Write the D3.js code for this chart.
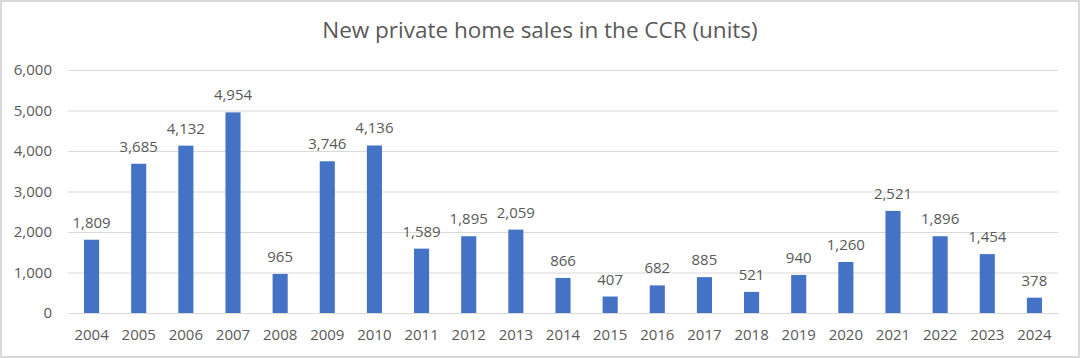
<!DOCTYPE html>
<html><head><meta charset="utf-8">
<script src="https://cdn.jsdelivr.net/npm/d3@7"></script>
<style>html,body{margin:0;padding:0;background:#fff;}svg{display:block;}</style>
</head><body>
<svg id="c" width="1080" height="358"></svg>
<script>
const years = ["2004","2005","2006","2007","2008","2009","2010","2011","2012","2013","2014","2015","2016","2017","2018","2019","2020","2021","2022","2023","2024"];
const sales = [1809,3685,4132,4954,965,3746,4136,1589,1895,2059,866,407,682,885,521,940,1260,2521,1896,1454,378];
const yTicks = [0,1000,2000,3000,4000,5000,6000];
const title = "New private home sales in the CCR (units)";

const svg = d3.select("#c");
const W = 1080, H = 358;
const font = "'Open Sans', sans-serif";
const txt = "#595959";
svg.append("rect").attr("x",1).attr("y",1).attr("width",W-2).attr("height",H-2)
  .attr("fill","#fff").attr("stroke","#d9d9d9").attr("stroke-width",2);

const m = {l:68, r:1058, t:70, b:313};
const x = d3.scaleBand().domain(years).range([m.l,m.r]).paddingInner(0.68).paddingOuter(0.34);
const y = d3.scaleLinear().domain([0,6000]).range([m.b,m.t]);
const fmt = d3.format(",");

const ga = svg.append("g").attr("transform",`translate(${m.l},0)`)
  .call(d3.axisLeft(y).tickValues(yTicks).tickFormat(fmt).tickSize(-(m.r-m.l)).tickPadding(16));
ga.select(".domain").remove();
ga.selectAll(".tick line").attr("stroke","#d9d9d9").attr("stroke-width",1);
ga.selectAll(".tick text").attr("fill",txt).style("font-family",font).style("font-size","15px");

svg.append("g").selectAll("rect").data(sales).join("rect")
  .attr("x",(d,i)=>x(years[i])).attr("width",x.bandwidth())
  .attr("y",d=>y(d)).attr("height",d=>y(0)-y(d)).attr("fill","#4472C4");

svg.append("g").selectAll("text").data(sales).join("text")
  .attr("x",(d,i)=>x(years[i])+x.bandwidth()/2).attr("y",d=>y(d)-12)
  .attr("text-anchor","middle").attr("fill",txt)
  .style("font-family",font).style("font-size","15px").text(d=>fmt(d));

const gx = svg.append("g").attr("transform",`translate(0,${m.b})`)
  .call(d3.axisBottom(x).tickSize(0).tickPadding(16));
gx.select(".domain").attr("stroke","#d9d9d9");
gx.selectAll(".tick text").attr("fill",txt).style("font-family",font).style("font-size","15px");

svg.append("text").attr("x",540).attr("y",38).attr("text-anchor","middle")
  .attr("fill",txt).style("font-family",font).style("font-size","22.5px").text(title);
</script>
</body></html>
